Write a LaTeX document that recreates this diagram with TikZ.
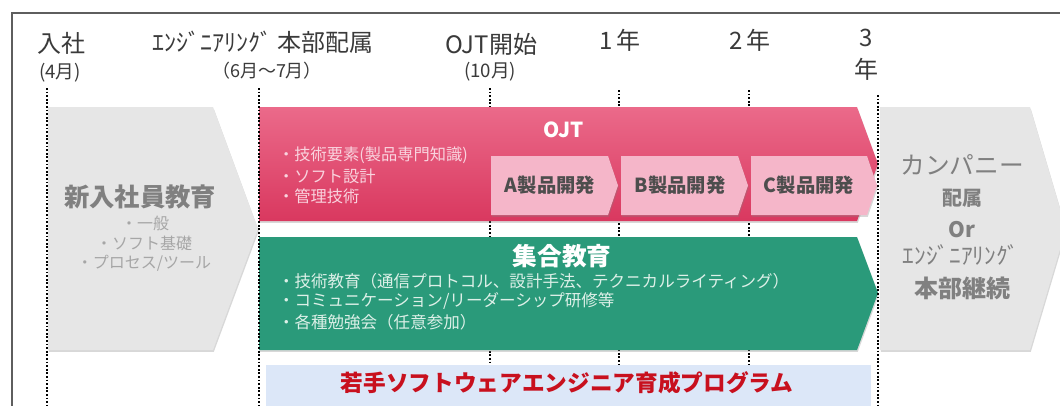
\documentclass[tikz,border=0pt]{standalone}
\usepackage{fontspec}
\setmainfont{Noto Sans CJK JP}
\usetikzlibrary{shadows}
\definecolor{pinkT}{HTML}{EB6A8A}
\definecolor{pinkB}{HTML}{D9385F}
\definecolor{lpink}{HTML}{F5B6C9}
\definecolor{grn}{HTML}{2A9A7A}
\definecolor{lblue}{HTML}{DCE7F8}
\definecolor{gbox}{HTML}{E6E6E6}
\definecolor{gtxt}{HTML}{808080}
\definecolor{gbul}{HTML}{A6A6A6}
\definecolor{dred}{HTML}{C8101E}
\definecolor{framec}{HTML}{5E5E5E}
\definecolor{toptxt}{HTML}{3A3A3A}
\definecolor{pbul}{HTML}{F9D3DE}
\definecolor{gnbul}{HTML}{DDF0E8}
\definecolor{subtxt}{HTML}{4D4D4D}
\newcommand{\fsz}[1]{\fontsize{#1pt}{#1pt}\selectfont}
\tikzset{
  dotl/.style={line width=1.6pt, dash pattern=on 1.4pt off 1.3pt, black},
  shd/.style={drop shadow={shadow xshift=0.6pt, shadow yshift=-1.4pt, opacity=0.3}},
  txt/.style={inner sep=0pt, outer sep=0pt},
  toplbl/.style={txt, text=toptxt},
  subarrow/.style={fill=lpink, shd},
  subtxtst/.style={txt, text=subtxt, font=\fsz{14.5}\bfseries},
}
\begin{document}
\begin{tikzpicture}[x=0.75pt,y=-0.75pt]
\useasboundingbox (0,0) rectangle (1060,405);
\fill[white] (0,0) rectangle (1060,405);
% frame
\draw[framec, line width=1.8pt] (12,406) -- (12,13) -- (1062,13);
% dotted lines behind
\draw[dotl] (490,88) -- (490,406);
\draw[dotl] (619,90) -- (619,406);
\draw[dotl] (749,90) -- (749,406);
% left gray arrow
\fill[gbox, shd] (48,107) -- (213,107) -- (258,229) -- (213,350) -- (48,350) -- cycle;
% right gray arrow
\fill[gbox, shd] (880,107) -- (1030,107) -- (1066,229) -- (1030,350) -- (880,350) -- cycle;
% OJT box
\shade[top color=pinkT, bottom color=pinkB, shd] (259,107) -- (857,107) -- (878,164) -- (857,221) -- (259,221) -- cycle;
% sub arrows
\path[subarrow] (491,156) -- (608,156) -- (618,185.5) -- (608,215) -- (491,215) -- cycle;
\path[subarrow] (621,156) -- (738,156) -- (748,185.5) -- (738,215) -- (621,215) -- cycle;
\path[subarrow] (751,156) -- (867,156) -- (877,185.5) -- (867,215) -- (751,215) -- cycle;
% green box
\fill[grn, shd] (259,237) -- (857,237) -- (878,293) -- (857,350) -- (259,350) -- cycle;
% blue bar
\fill[lblue] (266,365) rectangle (871,410);
% dotted lines on top
\draw[dotl] (47,88) -- (47,406);
\draw[dotl] (259,88) -- (259,406);
\draw[dotl] (878,95) -- (878,406);
% top labels
\node[toplbl, font=\fsz{18}] (nyusha) at (61,43) {入社};
\node[toplbl, font=\fsz{14}] (nyusha2) at (60,73) {(4月)};
\node[toplbl, font=\fsz{18}] (eng) at (263,42) {ｴﾝｼﾞﾆｱﾘﾝｸﾞ 本部配属};
\node[toplbl, font=\fsz{13.5}] (eng2) at (267,71) {（6月～7月）};
\node[toplbl, font=\fsz{18}] (ojts) at (491,44) {OJT開始};
\node[toplbl, font=\fsz{14}] (ojts2) at (490,72) {(10月)};
\node[toplbl, font=\fsz{18}] (y1) at (620,40) {1\,年};
\node[toplbl, font=\fsz{18}] (y2) at (750,40) {2\,年};
\node[toplbl, font=\fsz{18}] (y3a) at (866,38) {3};
\node[toplbl, font=\fsz{18}] (y3b) at (866,69) {年};
% left arrow text
\node[txt, text=gtxt, font=\fsz{19}\bfseries] (shinnyu) at (140,197) {新入社員教育};
\node[txt, text=gbul, font=\fsz{12}] (lb1) at (145,223) {・一般};
\node[txt, text=gbul, font=\fsz{12}] (lb2) at (144,243) {・ソフト基礎};
\node[txt, text=gbul, font=\fsz{12}] (lb3) at (144,263) {・プロセス/ツール};
% OJT text
\node[txt, text=white, font=\fsz{15.5}\bfseries] (ojt) at (564,130) {OJT};
\node[txt, text=pbul, font=\fsz{12.2}, anchor=west] (ob1) at (278,155) {・技術要素(製品専門知識)};
\node[txt, text=pbul, font=\fsz{12.2}, anchor=west] (ob2) at (278,176) {・ソフト設計};
\node[txt, text=pbul, font=\fsz{12.2}, anchor=west] (ob3) at (278,196) {・管理技術};
\node[subtxtst] (a) at (550,185) {A製品開発};
\node[subtxtst] (b) at (680,185) {B製品開発};
\node[subtxtst] (c) at (809,185) {C製品開発};
% green text
\node[txt, text=white, font=\fsz{18.5}\bfseries] (shugo) at (562,256) {集合教育};
\node[txt, text=gnbul, font=\fsz{12.4}, anchor=west] (gb1) at (278,281) {・技術教育（通信プロトコル、設計手法、テクニカルライティング）};
\node[txt, text=gnbul, font=\fsz{12.4}, anchor=west] (gb2) at (278,301) {・コミュニケーション/リーダーシップ研修等};
\node[txt, text=gnbul, font=\fsz{12.4}, anchor=west] (gb3) at (278,322) {・各種勉強会（任意参加）};
% blue text
\node[txt, text=dred, font=\fsz{17}\bfseries] (prog) at (567,383) {若手ソフトウェアエンジニア育成プログラム};
% right arrow text
\node[txt, text=gtxt, font=\fsz{18.5}] (r1) at (962,165) {カンパニー};
\node[txt, text=gtxt, font=\fsz{15}\bfseries] (r2) at (962,198) {配属};
\node[txt, text=gtxt, font=\fsz{16}\bfseries] (r3) at (962,230) {Or};
\node[txt, text=gtxt, font=\fsz{17.5}] (r4) at (961,255) {ｴﾝｼﾞﾆｱﾘﾝｸﾞ};
\node[txt, text=gtxt, font=\fsz{18}\bfseries] (r5) at (962,288) {本部継続};
\end{tikzpicture}
\end{document}
